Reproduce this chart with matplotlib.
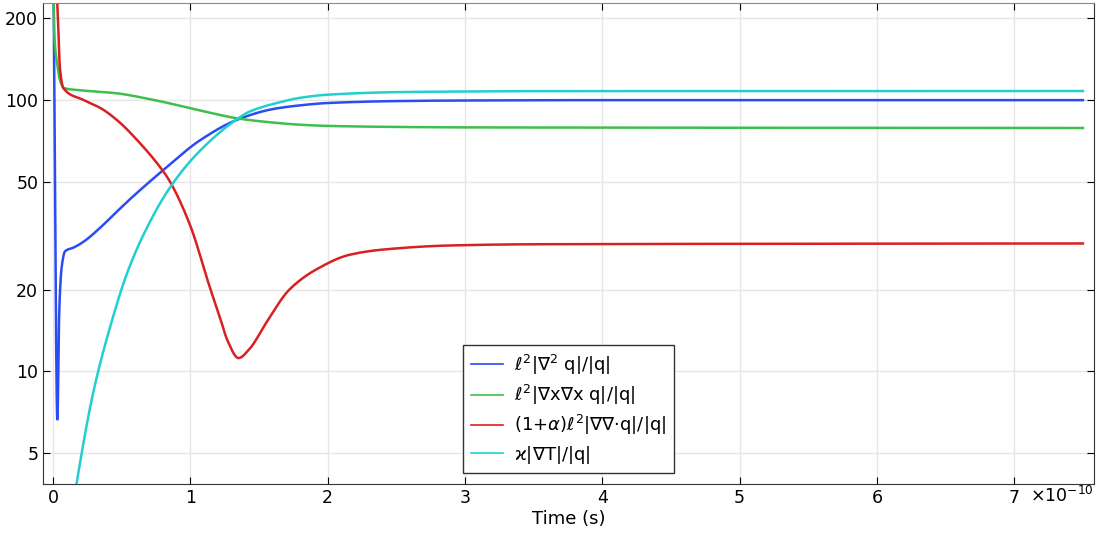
import numpy as np
import matplotlib.pyplot as plt
from matplotlib.ticker import FixedLocator, NullLocator

# time in units of 1e-10 s
t_blue = [0.0, 0.005, 0.031, 0.045, 0.063, 0.087, 0.15, 0.22, 0.342, 0.46, 0.584,
          0.79, 1.07, 1.34, 1.6, 1.8, 2.0, 2.5, 3.0, 4.0, 7.5]
v_blue = [400, 200, 6.6, 17, 24.4, 27.7, 28.6, 30.0, 33.8, 38.6, 44.2,
          54.5, 71, 84.5, 92.5, 95.5, 97.4, 99, 99.5, 99.8, 99.8]

t_green = [0.0, 0.01, 0.03, 0.05, 0.08, 0.2, 0.46, 0.71, 0.95, 1.15,
           1.34, 1.5, 1.8, 2.0, 2.5, 3.0, 7.5]
v_green = [300, 170, 135, 118, 110.5, 108.5, 105.8, 100.5, 94.5, 89.5,
           85.5, 83.5, 81, 80.2, 79.5, 79.2, 78.8]

t_red = [0.02, 0.035, 0.05, 0.075, 0.22, 0.35, 0.48, 0.61, 0.79, 0.85, 1.0,
         1.14, 1.215, 1.27, 1.35, 1.43, 1.555, 1.72, 1.92, 2.16, 2.4,
         2.89, 3.5, 7.5]
v_red = [300, 200, 130, 110.4, 100, 93, 83, 71.3, 55.6, 50.1, 34.3,
         20.5, 15.8, 13.0, 11.2, 12.1, 15.2, 20, 23.8, 26.9, 28.1,
         29.1, 29.4, 29.6]

t_cyan = [0.15, 0.172, 0.293, 0.427, 0.536, 0.657, 0.85, 1.07, 1.34, 1.43,
          1.65, 1.8, 2.0, 2.5, 2.89, 3.5, 7.5]
v_cyan = [3.3, 3.9, 8.4, 15.3, 22.8, 31.8, 47.5, 65, 85, 90.5,
          98, 101.8, 104.5, 106.8, 107.3, 107.7, 107.8]

labels = [r'$\ell^2|\nabla^2$ q|/|q|',
          r'$\ell^2|\nabla$x$\nabla$x q|/|q|',
          r'(1+$\alpha$)$\ell^2|\nabla\nabla$·q|/|q|',
          r'ϰ|$\nabla$T|/|q|']
colors = ['#2b4cf2', '#3cbf4c', '#d92020', '#22cfd0']
yticks = [5, 10, 20, 50, 100, 200]


def pchip(x, y, xn):
    # monotone cubic hermite interpolation
    x = np.asarray(x, float)
    y = np.asarray(y, float)
    h = np.diff(x)
    d = np.diff(y) / h
    m = np.zeros_like(y)
    for k in range(1, len(x) - 1):
        if d[k - 1] * d[k] > 0:
            w1 = 2 * h[k] + h[k - 1]
            w2 = h[k] + 2 * h[k - 1]
            m[k] = (w1 + w2) / (w1 / d[k - 1] + w2 / d[k])
    m[0] = d[0]
    m[-1] = d[-1]
    idx = np.clip(np.searchsorted(x, xn) - 1, 0, len(x) - 2)
    s = (xn - x[idx]) / h[idx]
    h00 = 2 * s**3 - 3 * s**2 + 1
    h10 = s**3 - 2 * s**2 + s
    h01 = -2 * s**3 + 3 * s**2
    h11 = s**3 - s**2
    return (h00 * y[idx] + h10 * h[idx] * m[idx] + h01 * y[idx + 1]
            + h11 * h[idx] * m[idx + 1])


def smooth(t, v):
    tt = np.linspace(t[0], t[-1], 4000)
    return tt * 1e-10, np.exp(pchip(t, np.log(v), tt))


fig = plt.figure(figsize=(11.05, 5.36), dpi=100)
ax = fig.add_axes([0.039, 0.097, 0.951, 0.897])

series = [(t_blue, v_blue), (t_green, v_green), (t_red, v_red), (t_cyan, v_cyan)]
for (t, v), c, lab in zip(series, colors, labels):
    x, y = smooth(t, v)
    ax.plot(x, y, color=c, lw=1.8, label=lab)

ax.set_yscale('log')
ax.set_ylim(3.85, 227)
ax.set_xlim(-0.073e-10, 7.58e-10)
ax.yaxis.set_major_locator(FixedLocator(yticks))
ax.yaxis.set_minor_locator(NullLocator())
ax.set_yticklabels([str(v) for v in yticks])
ax.set_xticks(np.arange(0, 8) * 1e-10)
ax.set_xticklabels([str(i) for i in range(8)])

ax.grid(True, color='#e6e6e6', lw=1)
ax.set_axisbelow(True)
ax.tick_params(direction='in', top=True, right=True, labelsize=12.5, length=5)
for s in ax.spines.values():
    s.set_color('#333333')
ax.spines['top'].set_color('#888888')

ax.set_xlabel('Time (s)', fontsize=13, labelpad=2)
ax.text(1.0, -0.004, '×10$^{-10}$', transform=ax.transAxes, ha='right', va='top',
        fontsize=12.5)

leg = ax.legend(loc='lower left', bbox_to_anchor=(0.40, 0.023), fontsize=13,
                fancybox=False, framealpha=1, edgecolor='#333333',
                handlelength=1.8, borderpad=0.4, labelspacing=0.35,
                handletextpad=0.6, borderaxespad=0)
for h in leg.get_lines():
    h.set_linewidth(1.2)

fig.savefig('out.png', dpi=100)
